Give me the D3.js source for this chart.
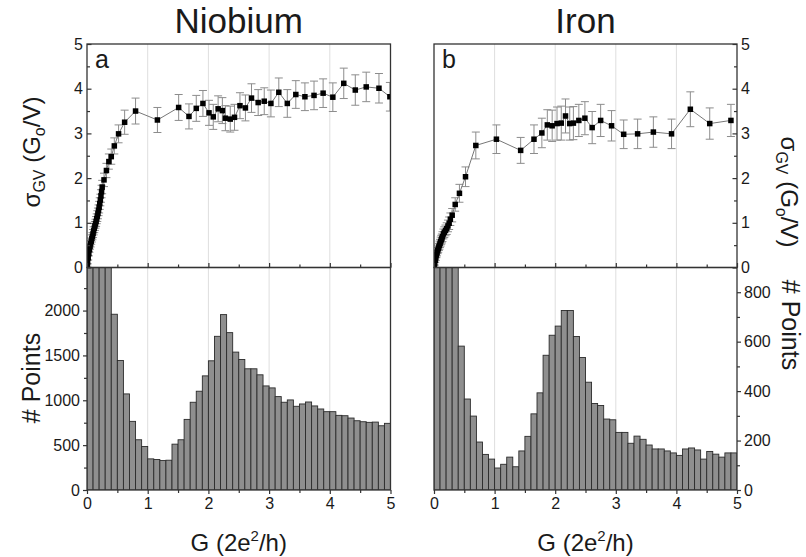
<!DOCTYPE html>
<html><head><meta charset="utf-8">
<script src="https://cdn.jsdelivr.net/npm/d3@7"></script>
<style>
body{margin:0;background:#fff}
text{font-family:"Liberation Sans",Arial,Helvetica,sans-serif;fill:#1a1a1a}
</style>
</head><body>
<svg id="c" width="806" height="557"></svg>
<script>
// ---------------- DATA ----------------
const titles = ["Niobium", "Iron"];
const panelLetters = ["a", "b"];
const xTicks = [0, 1, 2, 3, 4, 5];
const xMinorTicks = [0.5, 1.5, 2.5, 3.5, 4.5];
const sigmaTicks = [0, 1, 2, 3, 4, 5];
const sigmaMinorTicks = [0.5, 1.5, 2.5, 3.5, 4.5];
const nbCountTicks = [0, 500, 1000, 1500, 2000];
const nbCountMinor = [250, 750, 1250, 1750, 2250];
const feCountTicks = [0, 200, 400, 600, 800];
const feCountMinor = [100, 300, 500, 700];

// histogram bin left edges (bin width 0.1)
const binStarts = [0,0.1,0.2,0.3,0.4,0.5,0.6,0.7,0.8,0.9,1.0,1.1,1.2,1.3,1.4,1.5,1.6,1.7,1.8,1.9,
  2.0,2.1,2.2,2.3,2.4,2.5,2.6,2.7,2.8,2.9,3.0,3.1,3.2,3.3,3.4,3.5,3.6,3.7,3.8,3.9,
  4.0,4.1,4.2,4.3,4.4,4.5,4.6,4.7,4.8,4.9];
const binWidth = 0.1;

const nbCounts = [9800,7600,5200,3100,1959,1444,1071,765,560,485,347,340,328,332,511,560,787,978,1101,1272,
  1440,1713,1955,1754,1537,1455,1351,1351,1284,1160,1138,1041,978,1004,933,959,981,937,903,873,
  873,832,828,802,772,761,754,757,716,743];
const feCounts = [3900,3000,2100,1300,582,368,299,194,144,125,89,104,133,94,158,217,308,393,545,626,
  663,726,726,621,536,436,350,342,287,284,233,233,189,218,205,182,166,166,158,150,
  140,166,170,162,125,156,145,133,150,150];

const nbG = [0.005,0.01,0.02,0.03,0.04,0.05,0.06,0.07,0.08,0.09,0.10,0.11,0.12,0.13,0.14,0.15,0.16,0.17,0.18,0.19,
  0.20,0.21,0.22,0.23,0.24,0.25,0.28,0.32,0.36,0.40,0.45,0.52,0.62,0.80,
  1.16,1.51,1.68,1.80,1.91,2.01,2.08,2.16,2.23,2.28,2.36,2.43,2.52,2.61,2.71,2.82,2.92,3.03,3.16,3.30,
  3.44,3.59,3.74,3.89,4.05,4.23,4.42,4.60,4.81,4.99];
const nbSigma = [0.06,0.12,0.22,0.31,0.40,0.47,0.53,0.59,0.65,0.70,0.76,0.82,0.88,0.93,0.98,1.03,1.09,1.15,1.21,1.28,
  1.35,1.43,1.51,1.60,1.70,1.80,1.96,2.17,2.37,2.48,2.72,2.99,3.25,3.50,
  3.30,3.58,3.38,3.56,3.67,3.46,3.37,3.55,3.51,3.34,3.32,3.36,3.62,3.57,3.79,3.69,3.72,3.67,3.92,3.67,
  3.87,3.82,3.85,3.90,3.81,4.12,3.97,4.04,4.01,3.82];
const nbErr = [0.03,0.04,0.05,0.05,0.06,0.06,0.07,0.07,0.08,0.08,0.09,0.09,0.10,0.10,0.10,0.11,0.11,0.12,0.12,0.12,
  0.13,0.13,0.13,0.14,0.14,0.15,0.15,0.16,0.17,0.17,0.18,0.20,0.27,0.29,
  0.28,0.29,0.28,0.29,0.29,0.28,0.28,0.29,0.29,0.28,0.29,0.29,0.29,0.29,0.32,0.29,0.30,0.30,0.32,0.31,
  0.31,0.31,0.32,0.32,0.32,0.34,0.34,0.33,0.33,0.32];

const feG = [0.005,0.01,0.02,0.03,0.04,0.05,0.06,0.07,0.08,0.09,0.10,0.11,0.12,0.13,0.14,0.155,0.17,0.19,0.21,0.23,
  0.25,0.27,0.30,0.35,0.42,0.52,0.69,
  1.03,1.43,1.65,1.78,1.87,1.95,2.03,2.10,2.17,2.24,2.30,2.39,2.49,2.61,2.75,2.93,3.13,3.36,3.62,3.92,
  4.23,4.55,4.90];
const feSigma = [0.04,0.09,0.16,0.22,0.28,0.33,0.38,0.42,0.46,0.50,0.54,0.58,0.62,0.65,0.69,0.75,0.79,0.83,0.87,0.93,
  0.99,1.08,1.17,1.41,1.66,2.03,2.73,
  2.87,2.62,2.87,3.01,3.19,3.17,3.22,3.23,3.39,3.22,3.23,3.29,3.34,3.13,3.29,3.17,2.98,2.99,3.03,2.99,
  3.54,3.22,3.29];
const feErr = [0.03,0.04,0.05,0.06,0.06,0.07,0.07,0.08,0.08,0.09,0.09,0.10,0.10,0.10,0.11,0.11,0.12,0.12,0.13,0.13,
  0.14,0.14,0.15,0.15,0.20,0.22,0.30,
  0.32,0.29,0.32,0.33,0.34,0.35,0.37,0.38,0.38,0.37,0.37,0.36,0.37,0.36,0.36,0.34,0.32,0.33,0.34,0.33,
  0.39,0.35,0.36];

// ---------------- LAYOUT ----------------
const svg = d3.select("#c");
svg.append("rect").attr("width", 806).attr("height", 557).attr("fill", "#fff");

const TOP = 44, MID = 267.5, BOT = 490;
const columns = [
  {x0: 87, x1: 390.5, side: "left", title: titles[0], letter: panelLetters[0],
   G: nbG, S: nbSigma, E: nbErr, counts: nbCounts, cMax: 2480, cTicks: nbCountTicks, cMinor: nbCountMinor},
  {x0: 434, x1: 737, side: "right", title: titles[1], letter: panelLetters[1],
   G: feG, S: feSigma, E: feErr, counts: feCounts, cMax: 900, cTicks: feCountTicks, cMinor: feCountMinor}
];

const frameColor = "#333";
const gridColor = "#dedede";

columns.forEach((col, ci) => {
  const x = d3.scaleLinear().domain([0, 5]).range([col.x0, col.x1]);
  const yS = d3.scaleLinear().domain([0, 5]).range([MID, TOP]);
  const yC = d3.scaleLinear().domain([0, col.cMax]).range([BOT, MID]);
  const W = col.x1 - col.x0;

  // clip paths
  svg.append("clipPath").attr("id", "ct" + ci).append("rect")
    .attr("x", col.x0).attr("y", TOP).attr("width", W).attr("height", MID - TOP);
  svg.append("clipPath").attr("id", "cb" + ci).append("rect")
    .attr("x", col.x0).attr("y", MID).attr("width", W).attr("height", BOT - MID);

  // grid lines
  const gridVals = [1, 2, 3, 4];
  svg.append("g").selectAll("line").data(gridVals).join("line")
    .attr("x1", d => x(d)).attr("x2", d => x(d)).attr("y1", TOP).attr("y2", BOT)
    .attr("stroke", gridColor).attr("stroke-width", 1);

  // ---- histogram ----
  const hist = svg.append("g").attr("clip-path", `url(#cb${ci})`);
  hist.selectAll("rect").data(binStarts.map((b, i) => ({b, c: col.counts[i]}))).join("rect")
    .attr("x", d => x(d.b))
    .attr("width", d => x(d.b + binWidth) - x(d.b))
    .attr("y", d => yC(d.c))
    .attr("height", d => BOT - yC(d.c))
    .attr("fill", "#8f8f8f").attr("stroke", "#2b2b2b").attr("stroke-width", 0.9);

  // ---- sigma data ----
  const pts = col.G.map((g, i) => ({g, s: col.S[i], e: col.E[i]}));
  const top = svg.append("g").attr("clip-path", `url(#ct${ci})`);
  // error bars
  const eb = top.append("g").attr("stroke", "#8c8c8c").attr("stroke-width", 1);
  eb.selectAll("line.v").data(pts).join("line").attr("class", "v")
    .attr("x1", d => x(d.g)).attr("x2", d => x(d.g))
    .attr("y1", d => yS(d.s - d.e)).attr("y2", d => yS(d.s + d.e));
  eb.selectAll("line.t").data(pts).join("line").attr("class", "t")
    .attr("x1", d => x(d.g) - 4).attr("x2", d => x(d.g) + 4)
    .attr("y1", d => yS(d.s + d.e)).attr("y2", d => yS(d.s + d.e));
  eb.selectAll("line.b").data(pts).join("line").attr("class", "b")
    .attr("x1", d => x(d.g) - 4).attr("x2", d => x(d.g) + 4)
    .attr("y1", d => yS(d.s - d.e)).attr("y2", d => yS(d.s - d.e));
  // line
  const line = d3.line().x(d => x(d.g)).y(d => yS(d.s));
  top.append("path").datum([{g: 0, s: 0}].concat(pts)).attr("d", line)
    .attr("fill", "none").attr("stroke", "#777").attr("stroke-width", 1);
  // markers
  const ms = 5.5;
  top.selectAll("rect.m").data(pts).join("rect").attr("class", "m")
    .attr("x", d => x(d.g) - ms / 2).attr("y", d => yS(d.s) - ms / 2)
    .attr("width", ms).attr("height", ms).attr("fill", "#000");

  // ---- frames ----
  svg.append("rect").attr("x", col.x0).attr("y", TOP).attr("width", W).attr("height", MID - TOP)
    .attr("fill", "none").attr("stroke", frameColor).attr("stroke-width", 1.3);
  svg.append("rect").attr("x", col.x0).attr("y", MID).attr("width", W).attr("height", BOT - MID)
    .attr("fill", "none").attr("stroke", frameColor).attr("stroke-width", 1.3);

  const styleAxis = g => {
    g.select(".domain").remove();
    g.selectAll("line").attr("stroke", frameColor).attr("stroke-width", 1.2);
    g.selectAll("text").attr("font-size", 16).attr("fill", "#1a1a1a")
      .attr("font-family", '"Liberation Sans",Arial,sans-serif');
  };

  // top panel: bottom axis ticks inward (upward), no labels
  svg.append("g").attr("transform", `translate(0,${MID})`)
    .call(d3.axisBottom(x).tickValues(xTicks).tickSizeInner(-4.5).tickSizeOuter(0).tickFormat(""))
    .call(styleAxis);
  svg.append("g").attr("transform", `translate(0,${MID})`)
    .call(d3.axisBottom(x).tickValues(xMinorTicks).tickSizeInner(-3).tickSizeOuter(0).tickFormat(""))
    .call(styleAxis);

  // bottom panel: bottom axis ticks outward with labels
  svg.append("g").attr("transform", `translate(0,${BOT})`)
    .call(d3.axisBottom(x).tickValues(xTicks).tickSizeInner(4).tickSizeOuter(0).tickPadding(4).tickFormat(d3.format("d")))
    .call(styleAxis);
  svg.append("g").attr("transform", `translate(0,${BOT})`)
    .call(d3.axisBottom(x).tickValues(xMinorTicks).tickSizeInner(3).tickSizeOuter(0).tickFormat(""))
    .call(styleAxis);

  if (col.side === "left") {
    svg.append("g").attr("transform", `translate(${col.x0},0)`)
      .call(d3.axisLeft(yS).tickValues(sigmaTicks).tickSizeInner(-4.5).tickSizeOuter(0).tickPadding(4).tickFormat(d3.format("d")))
      .call(styleAxis);
    svg.append("g").attr("transform", `translate(${col.x0},0)`)
      .call(d3.axisLeft(yS).tickValues(sigmaMinorTicks).tickSizeInner(-3).tickSizeOuter(0).tickFormat(""))
      .call(styleAxis);
    svg.append("g").attr("transform", `translate(${col.x0},0)`)
      .call(d3.axisLeft(yC).tickValues(col.cTicks).tickSizeInner(4).tickSizeOuter(0).tickPadding(3).tickFormat(d3.format("d")))
      .call(styleAxis);
    svg.append("g").attr("transform", `translate(${col.x0},0)`)
      .call(d3.axisLeft(yC).tickValues(col.cMinor).tickSizeInner(3).tickSizeOuter(0).tickFormat(""))
      .call(styleAxis);
  } else {
    svg.append("g").attr("transform", `translate(${col.x1},0)`)
      .call(d3.axisRight(yS).tickValues(sigmaTicks).tickSizeInner(-4.5).tickSizeOuter(0).tickPadding(4).tickFormat(d3.format("d")))
      .call(styleAxis);
    svg.append("g").attr("transform", `translate(${col.x1},0)`)
      .call(d3.axisRight(yS).tickValues(sigmaMinorTicks).tickSizeInner(-3).tickSizeOuter(0).tickFormat(""))
      .call(styleAxis);
    svg.append("g").attr("transform", `translate(${col.x1},0)`)
      .call(d3.axisRight(yC).tickValues(col.cTicks).tickSizeInner(4).tickSizeOuter(0).tickPadding(3).tickFormat(d3.format("d")))
      .call(styleAxis);
    svg.append("g").attr("transform", `translate(${col.x1},0)`)
      .call(d3.axisRight(yC).tickValues(col.cMinor).tickSizeInner(3).tickSizeOuter(0).tickFormat(""))
      .call(styleAxis);
  }

  // ---- texts ----
  const cx = (col.x0 + col.x1) / 2;
  svg.append("text").attr("x", cx).attr("y", 32.5).attr("text-anchor", "middle")
    .attr("font-size", 35).text(col.title);
  svg.append("text").attr("x", col.x0 + 8).attr("y", 68).attr("font-size", 25).text(col.letter);

  const xl = svg.append("text").attr("x", cx).attr("y", 551).attr("text-anchor", "middle").attr("font-size", 24);
  xl.append("tspan").text("G (2e");
  xl.append("tspan").attr("dy", -10).attr("font-size", 15).text("2");
  xl.append("tspan").attr("dy", 10).text("/h)");

  const isL = col.side === "left";
  const sx = isL ? 40 : 781, sy = isL ? 152 : 192;
  const st = svg.append("text").attr("transform", `translate(${sx},${sy}) rotate(${isL ? -90 : 90})`)
    .attr("text-anchor", "middle").attr("font-size", 24);
  st.append("tspan").text("σ");
  st.append("tspan").attr("dy", 5).attr("font-size", 16).text("GV");
  st.append("tspan").attr("dy", -5).text(" (G");
  st.append("tspan").attr("dy", 5).attr("font-size", 16).text("o");
  st.append("tspan").attr("dy", -5).text("/V)");

  const px = isL ? 40 : 782, py = isL ? 378 : 325;
  svg.append("text").attr("transform", `translate(${px},${py}) rotate(${isL ? -90 : 90})`)
    .attr("text-anchor", "middle").attr("font-size", 25).text("# Points");
});
</script>
</body></html>
